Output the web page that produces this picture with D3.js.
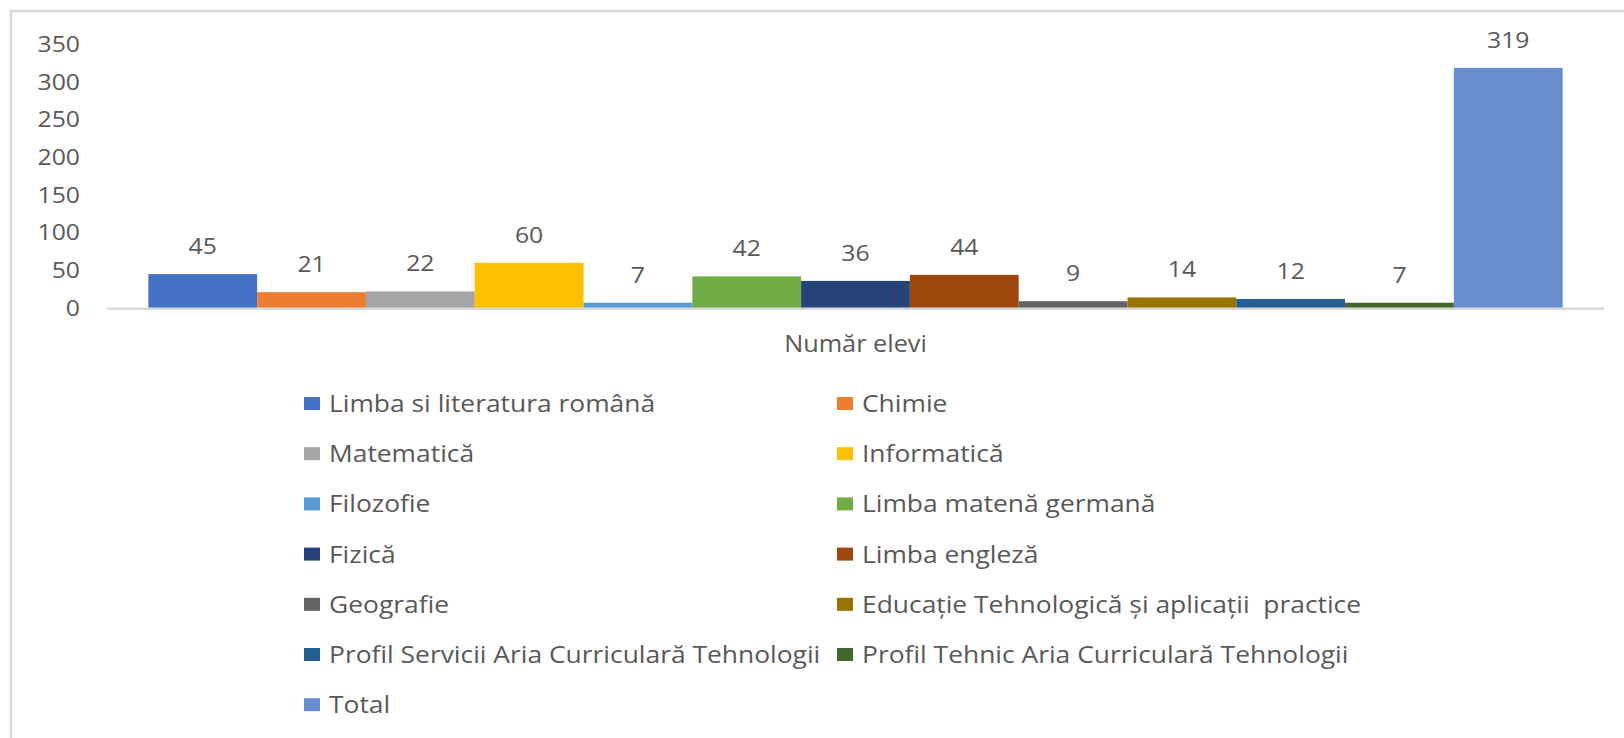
<!DOCTYPE html>
<html>
<head>
<meta charset="utf-8">
<script src="https://cdn.jsdelivr.net/npm/d3@7"></script>
<style>
  html, body { margin: 0; padding: 0; background: #fff; }
  svg { display: block; }
  text { font-family: "Open Sans", "Liberation Sans", sans-serif; fill: #595959; }
</style>
</head>
<body>
<svg id="chart" width="1624" height="738"></svg>
<script>
const categories = [
  "Limba si literatura română",
  "Chimie",
  "Matematică",
  "Informatică",
  "Filozofie",
  "Limba matenă germană",
  "Fizică",
  "Limba engleză",
  "Geografie",
  "Educație Tehnologică și aplicații  practice",
  "Profil Servicii Aria Curriculară Tehnologii",
  "Profil Tehnic Aria Curriculară Tehnologii",
  "Total"
];
const values = [45, 21, 22, 60, 7, 42, 36, 44, 9, 14, 12, 7, 319];
const colors = ["#4472C4", "#ED7D31", "#A5A5A5", "#FFC000", "#5B9BD5", "#70AD47",
                "#264478", "#9E480E", "#636363", "#997300", "#255E91", "#43682B", "#698ED0"];
const yTicks = [0, 50, 100, 150, 200, 250, 300, 350];
const axisTitle = "Număr elevi";

const SX = 1.1; // horizontal stretch of the reference's text

const svg = d3.select("#chart");

// chart frame (right and bottom edges fall outside the picture)
svg.append("rect")
  .attr("x", 11).attr("y", 11)
  .attr("width", 1640).attr("height", 760)
  .attr("fill", "none").attr("stroke", "#d9d9d9").attr("stroke-width", 2.5);

const plotLeft = 107, plotRight = 1604, plotTop = 44.5, plotBottom = 308;

const x = d3.scaleBand().domain(categories).range([plotLeft, plotRight])
  .paddingInner(0).paddingOuter(0.38);
const y = d3.scaleLinear().domain([0, 350]).range([plotBottom, plotTop]);

// y-axis labels
const yAxis = d3.axisLeft(y).tickValues(yTicks).tickSize(0).tickPadding(0);
const yg = svg.append("g").attr("transform", "translate(80,0)").call(yAxis);
yg.select(".domain").remove();
yg.selectAll("text")
  .attr("font-size", 22.5).attr("fill", "#595959")
  .attr("font-family", "'Open Sans', sans-serif")
  .attr("transform", `scale(${SX},1)`);

// bars
svg.append("g").selectAll("rect").data(values).join("rect")
  .attr("x", (d, i) => x(categories[i]))
  .attr("y", d => y(d))
  .attr("width", x.bandwidth())
  .attr("height", d => y(0) - y(d))
  .attr("fill", (d, i) => colors[i]);

// baseline
svg.append("line")
  .attr("x1", plotLeft).attr("x2", plotRight)
  .attr("y1", plotBottom + 0.8).attr("y2", plotBottom + 0.8)
  .attr("stroke", "#d9d9d9").attr("stroke-width", 2.5);

// data labels
svg.append("g").selectAll("text").data(values).join("text")
  .attr("transform", (d, i) =>
    `translate(${x(categories[i]) + x.bandwidth() / 2},${y(d) - 20}) scale(${SX},1)`)
  .attr("text-anchor", "middle")
  .attr("font-size", 22.5)
  .text(d => d);

// category axis title
svg.append("text")
  .attr("transform", `translate(${(plotLeft + plotRight) / 2},351.5) scale(${SX},1)`)
  .attr("text-anchor", "middle")
  .attr("font-size", 23)
  .text(axisTitle);

// legend
const colX = [304, 837];
const rowY0 = 403.5, rowStep = 50.2;
const leg = svg.append("g").selectAll("g").data(categories).join("g")
  .attr("transform", (d, i) => `translate(${colX[i % 2]},${rowY0 + Math.floor(i / 2) * rowStep})`);
leg.append("rect")
  .attr("x", 0).attr("y", -6.5).attr("width", 16).attr("height", 13)
  .attr("fill", (d, i) => colors[i]);
leg.append("text")
  .attr("transform", `translate(25,8.5) scale(${SX},1)`)
  .attr("font-size", 24)
  .attr("xml:space", "preserve")
  .text(d => d);
</script>
</body>
</html>
